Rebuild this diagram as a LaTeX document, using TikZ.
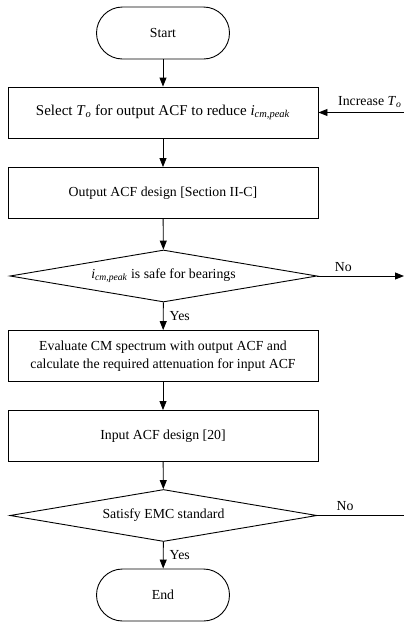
\documentclass[tikz,border=0pt]{standalone}
\usepackage{fontspec}
\setmainfont{Liberation Serif}
\usetikzlibrary{shapes.geometric,arrows.meta}
\begin{document}
\begin{tikzpicture}[x=1pt,y=-1pt,
  font=\fontsize{13.8}{18}\selectfont,
  base/.style={draw=black, line width=0.9pt},
  term/.style={base, rounded corners=26pt, minimum width=133pt, minimum height=52pt, inner sep=0pt},
  proc/.style={base, minimum width=310pt, minimum height=51pt, inner sep=0pt, align=center},
  dec/.style={base, diamond, aspect=5.9, minimum width=307pt, minimum height=52pt, inner sep=0pt},
  arr/.style={line width=0.9pt, -{Triangle[length=9pt,width=7pt]}},
  ln/.style={line width=0.9pt},
  lab/.style={inner sep=0pt}
]
\useasboundingbox (0,0) rectangle (404,622);
\node[term] (start) at (163,33) {Start};
\node[proc, font=\fontsize{15}{18}\selectfont] (sel) at (163,112.5) {Select \textit{T}\textsubscript{\textit{o}} for output ACF to reduce \textit{i}\textsubscript{\textit{cm,peak}}};
\node[proc] (out) at (163,193) {Output ACF design [Section II-C]};
\node[dec] (d1) at (163.5,276) {\textit{i}\textsubscript{\textit{cm,peak}} is safe for bearings};
\node[proc] (eval) at (163,356) {Evaluate CM spectrum with output ACF and\\calculate the required attenuation for input ACF};
\node[proc] (inp) at (163,436) {Input ACF design [20]};
\node[dec] (d2) at (163.5,515.5) {Satisfy EMC standard};
\node[term] (end) at (163,595) {End};
\coordinate (inc) at (404,112.5);
\coordinate (no1) at (404,276);
\coordinate (no2) at (404,515.5);
\draw[arr] (start) -- (sel);
\draw[arr] (inc) -- node[lab, above=4pt, pos=0.4] {Increase \textit{T}\textsubscript{\textit{o}}} (sel.east);
\draw[arr] (sel) -- (out);
\draw[arr] (out) -- (d1);
\draw[arr] (d1) -- node[lab, right=6pt, midway] {Yes} (eval);
\draw[arr] (d1.east) -- node[lab, above=4pt, pos=0.3] {No} (no1);
\draw[arr] (eval) -- (inp);
\draw[arr] (inp) -- (d2);
\draw[ln] (d2.east) -- node[lab, above=4pt, pos=0.32] {No} (no2);
\draw[arr] (d2) -- node[lab, right=6pt, midway] {Yes} (end);
\end{tikzpicture}
\end{document}
